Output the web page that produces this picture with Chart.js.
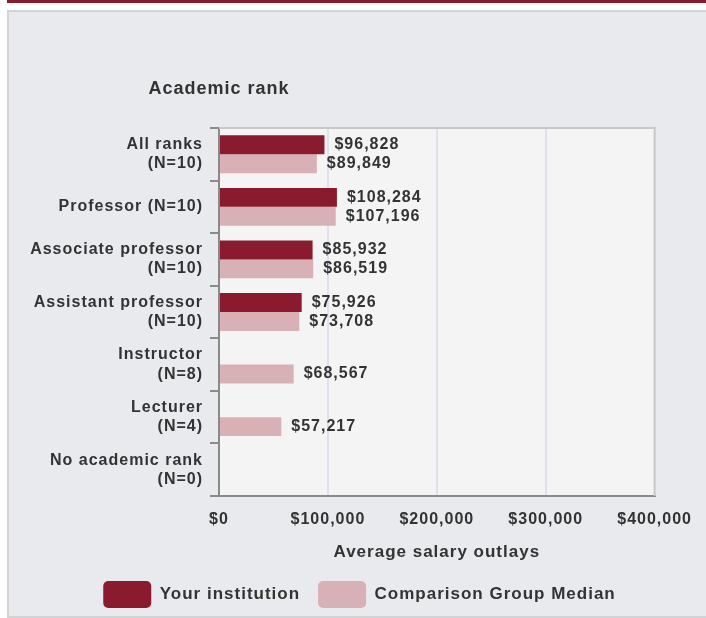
<!DOCTYPE html>
<html>
<head>
<meta charset="utf-8">
<title>Average salary outlays by academic rank</title>
<script src="https://cdn.jsdelivr.net/npm/chart.js@4.4.1/dist/chart.umd.min.js"></script>
<style>
  html, body { margin: 0; padding: 0; background: #fff; }
  body { width: 706px; height: 618px; position: relative; overflow: hidden; }
  .topbar { position: absolute; left: 7px; top: 0; width: 699px; height: 3px; background: #8a1b2e; }
  .panel { position: absolute; left: 7px; top: 10px; width: 697px; height: 604px; background: #e9eaee;
           border: 2px solid #d3d3d3; border-right: none; }
  #chart { position: absolute; left: 0; top: 0; }
</style>
</head>
<body>
<div class="topbar"></div>
<div class="panel"></div>
<canvas id="chart" width="706" height="618"></canvas>
<script>
const categories = [
  ['All ranks', '(N=10)'],
  'Professor (N=10)',
  ['Associate professor', '(N=10)'],
  ['Assistant professor', '(N=10)'],
  ['Instructor', '(N=8)'],
  ['Lecturer', '(N=4)'],
  ['No academic rank', '(N=0)']
];
const yourInstitution = [96828, 108284, 85932, 75926, null, null, null];
const comparisonMedian = [89849, 107196, 86519, 73708, 68567, 57217, null];
const xTicks = [0, 100000, 200000, 300000, 400000];

const seriesNames = ['Your institution', 'Comparison Group Median'];
const darkRed = '#8a1b2e';
const pink = '#d8b1b7';
const textColor = '#333333';
const fontFamily = '"Liberation Sans", Arial, sans-serif';

const money = v => '$' + Number(v).toLocaleString('en-US');

// spaced-out lettering like the original
const spacing = {
  id: 'spacing',
  beforeUpdate(chart) { chart.ctx.letterSpacing = '1px'; },
  beforeDraw(chart) { chart.ctx.letterSpacing = '1px'; }
};

// legend sits a little right of the plot centre in the original
const legendShift = {
  id: 'legendShift',
  afterLayout(chart) {
    chart.legend.left += 31;
    chart.legend.right += 31;
  }
};

const plotBack = {
  id: 'plotBack',
  beforeDraw(chart) {
    const { ctx, chartArea: a } = chart;
    ctx.save();
    ctx.fillStyle = '#f4f4f4';
    ctx.fillRect(a.left, a.top, a.right - a.left, a.bottom - a.top);
    ctx.restore();
  },
  afterDatasetsDraw(chart) {
    const { ctx, chartArea: a } = chart;
    ctx.save();
    ctx.strokeStyle = '#c8c8c8';
    ctx.lineWidth = 2;
    ctx.beginPath();
    ctx.moveTo(a.left, a.top);
    ctx.lineTo(a.right, a.top);
    ctx.lineTo(a.right, a.bottom);
    ctx.stroke();
    ctx.restore();
  }
};

const valueLabels = {
  id: 'valueLabels',
  afterDatasetsDraw(chart) {
    const ctx = chart.ctx;
    ctx.save();
    ctx.letterSpacing = '1px';
    ctx.font = 'bold 16px ' + fontFamily;
    ctx.fillStyle = textColor;
    ctx.textAlign = 'left';
    ctx.textBaseline = 'middle';
    chart.data.datasets.forEach((ds, i) => {
      chart.getDatasetMeta(i).data.forEach((bar, j) => {
        const v = ds.data[j];
        if (v === null || v === undefined) return;
        ctx.fillText(money(v), bar.x + 10, bar.y);
      });
    });
    ctx.restore();
  }
};

const axisHeading = {
  id: 'axisHeading',
  afterDraw(chart) {
    const { ctx, chartArea: a } = chart;
    ctx.save();
    ctx.letterSpacing = '1px';
    ctx.font = 'bold 18px ' + fontFamily;
    ctx.fillStyle = textColor;
    ctx.textAlign = 'center';
    ctx.textBaseline = 'middle';
    ctx.fillText('Academic rank', a.left, a.top - 39);
    ctx.restore();
  }
};

new Chart(document.getElementById('chart'), {
  type: 'bar',
  data: {
    labels: categories,
    datasets: [{
      label: seriesNames[0],
      data: yourInstitution,
      backgroundColor: darkRed,
      borderWidth: 0,
      barPercentage: 1,
      categoryPercentage: 0.72
    }, {
      label: seriesNames[1],
      data: comparisonMedian,
      backgroundColor: pink,
      borderWidth: 0,
      barPercentage: 1,
      categoryPercentage: 0.72
    }]
  },
  options: {
    indexAxis: 'y',
    responsive: false,
    animation: false,
    devicePixelRatio: 1,
    layout: { padding: { top: 128, right: 49, left: 0, bottom: 0 } },
    scales: {
      x: {
        min: 0,
        max: 400000,
        afterBuildTicks: scale => { scale.ticks = xTicks.map(v => ({ value: v })); },
        afterFit: scale => { scale.height = 67; },
        ticks: {
          callback: v => money(v),
          color: textColor,
          font: { family: fontFamily, size: 16, weight: 'bold' },
          padding: 14,
          maxRotation: 0
        },
        grid: {
          drawTicks: false,
          lineWidth: 2,
          color: c => (c.tick && (c.tick.value === 0 || c.tick.value === 400000)) ? 'rgba(0,0,0,0)' : '#dde2ee'
        },
        border: { color: '#8a8a8a', width: 2 },
        title: {
          display: true,
          text: 'Average salary outlays',
          color: textColor,
          font: { family: fontFamily, size: 17, weight: 'bold' },
          padding: { top: 4, bottom: 0 }
        }
      },
      y: {
        afterFit: scale => { scale.width = 219; },
        ticks: {
          color: textColor,
          font: { family: fontFamily, size: 16, weight: 'bold', lineHeight: 1.2 },
          padding: 7,
          autoSkip: false
        },
        grid: {
          offset: true,
          drawOnChartArea: false,
          tickLength: 9,
          lineWidth: 2,
          color: '#8a8a8a'
        },
        border: { color: '#8a8a8a', width: 2 }
      }
    },
    plugins: {
      legend: {
        position: 'bottom',
        labels: {
          boxWidth: 48,
          boxHeight: 27,
          useBorderRadius: true,
          borderRadius: 5,
          padding: 18,
          color: textColor,
          font: { family: fontFamily, size: 17, weight: 'bold' }
        }
      },
      tooltip: { enabled: false }
    }
  },
  plugins: [spacing, legendShift, plotBack, valueLabels, axisHeading]
});
</script>
</body>
</html>
